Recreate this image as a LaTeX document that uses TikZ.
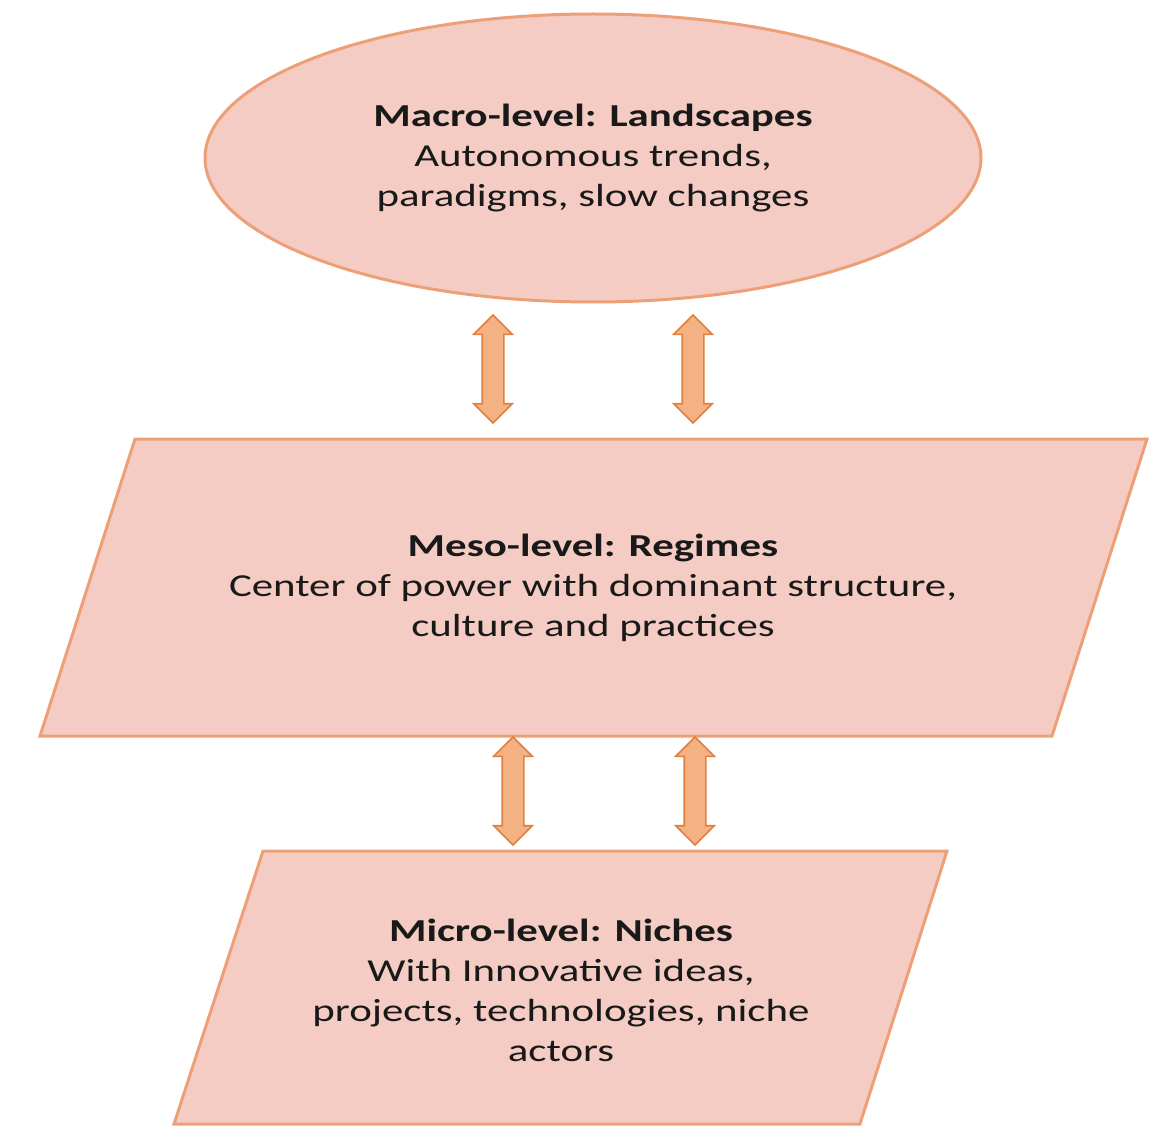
\documentclass[tikz,border=0pt]{standalone}
\usepackage{fontspec}
\setmainfont{Carlito}[FakeStretch=1.34]
\usetikzlibrary{shapes.arrows}
\definecolor{boxfill}{HTML}{F4CCC4}
\definecolor{boxline}{HTML}{EDA077}
\definecolor{arrfill}{HTML}{F4B183}
\definecolor{arrline}{HTML}{E0803F}
\tikzset{
  levelshape/.style={fill=boxfill, draw=boxline, line width=3pt, line join=miter},
  leveltext/.style={align=center, inner sep=0pt, text=black!90,
    font=\fontsize{32}{40}\selectfont},
  dblarr/.style={shape=double arrow, rotate=90, fill=arrfill, draw=arrline,
    line width=1.6pt, inner xsep=0pt, inner ysep=10pt, minimum width=38pt,
    double arrow head extend=8.5pt, minimum height=108pt},
}
\begin{document}
\begin{tikzpicture}[x=1pt, y=-1pt]
\useasboundingbox (0,0) rectangle (1157,1126);
% shapes
\draw[levelshape] (593,158) ellipse [x radius=388, y radius=144];
\draw[levelshape] (135,439) -- (1147,439) -- (1052,736) -- (40,736) -- cycle;
\draw[levelshape] (263,851) -- (947,851) -- (860,1124) -- (174,1124) -- cycle;
% texts
\node[leveltext] (macro) at (593,158) {\textbf{Macro-level: Landscapes}\\Autonomous trends,\\paradigms, slow changes};
\node[leveltext] (meso) at (593,588) {\textbf{Meso-level: Regimes}\\Center of power with dominant structure,\\culture and practices};
\node[leveltext] (micro) at (561,990) {\textbf{Micro-level: Niches}\\With Innovative ideas,\\projects, technologies, niche\\actors};
% double arrows
\node[dblarr] (arrA) at (493,369) {};
\node[dblarr] (arrB) at (693,369) {};
\node[dblarr] (arrC) at (513,791) {};
\node[dblarr] (arrD) at (695,791) {};
\end{tikzpicture}
\end{document}
